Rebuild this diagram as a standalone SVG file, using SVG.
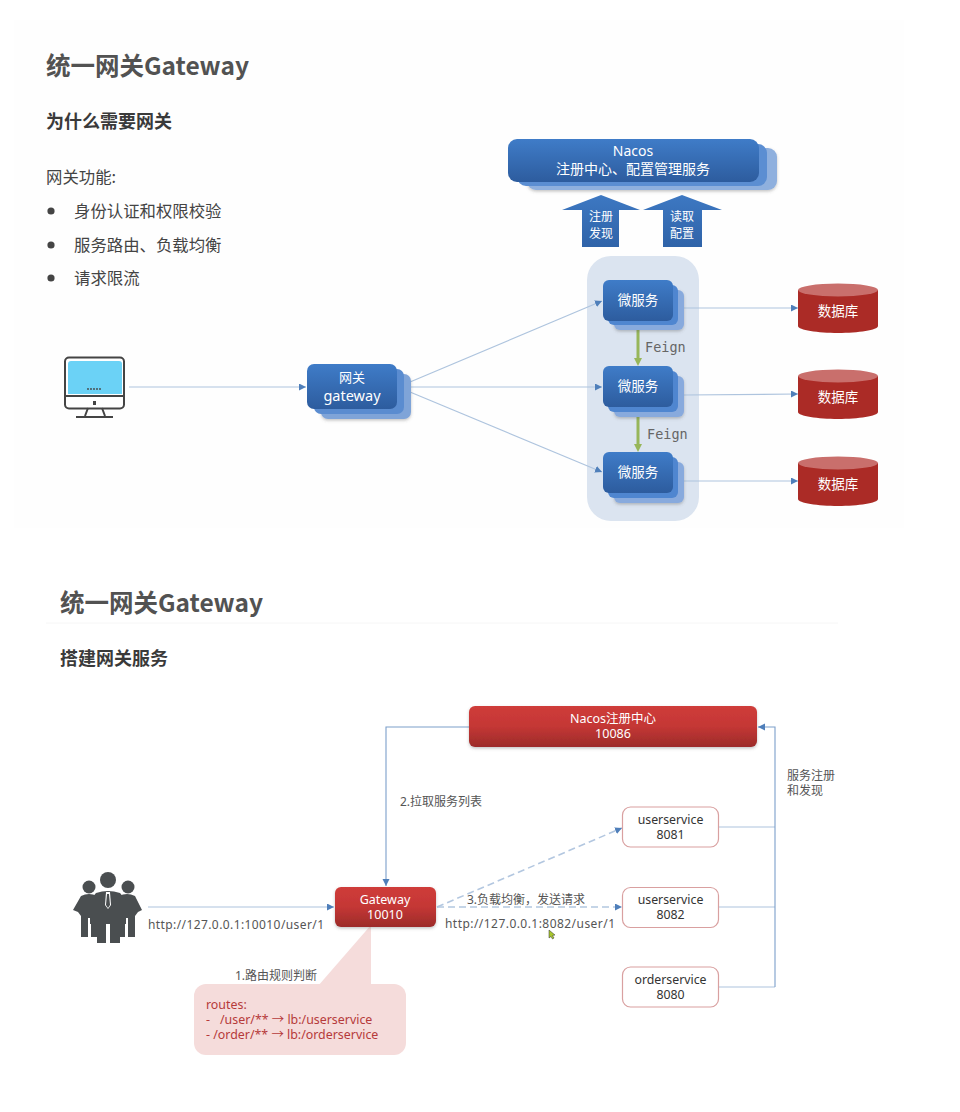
<svg xmlns="http://www.w3.org/2000/svg" width="960" height="1112" viewBox="0 0 960 1112">
<style>
text{font-family:"Noto Sans","Noto Sans CJK SC",sans-serif;}
.cjk{font-family:"Noto Sans CJK SC",sans-serif;}
.title{font-size:24.5px;font-weight:700;fill:#525252;font-family:"Noto Sans CJK SC",sans-serif;}
.h2{font-size:18px;font-weight:700;fill:#3a3a3a;font-family:"Noto Sans CJK SC",sans-serif;}
.body{font-size:16.4px;fill:#444;font-family:"Noto Sans CJK SC",sans-serif;}
.w{fill:#fff;text-anchor:middle;}
.lab{font-size:12px;fill:#555;}
.mono{font-family:"DejaVu Sans Mono",monospace;font-size:13.5px;fill:#666;}
.svc{font-size:12.3px;fill:#333;text-anchor:middle;}
.route{font-size:12.4px;fill:#b53a3a;}
.l{fill:none;stroke:#aec4de;stroke-width:1.2;}
.l2{fill:none;stroke:#7c9fca;stroke-width:1.1;}
.d{fill:none;stroke:#b3c7e0;stroke-width:1.6;stroke-dasharray:7 4;}
.f{fill:none;stroke:#97b65a;stroke-width:3;}
.db-b{fill:#ab2b26;}
.db-t{fill:#c96f6c;}
.svcbox{fill:#fff;stroke:#d9a0a0;stroke-width:1.2;}
</style>
<defs>
<linearGradient id="bg" x1="0" y1="0" x2="0" y2="1"><stop offset="0" stop-color="#3f7cc8"/><stop offset="1" stop-color="#2d5c9e"/></linearGradient>
<linearGradient id="rg" x1="0" y1="0" x2="0" y2="1"><stop offset="0" stop-color="#cf3c3a"/><stop offset="0.5" stop-color="#c43735"/><stop offset="1" stop-color="#9c2b29"/></linearGradient>
<linearGradient id="ag" x1="0" y1="0" x2="0" y2="1"><stop offset="0" stop-color="#3d78c2"/><stop offset="1" stop-color="#2f63a8"/></linearGradient>
<filter id="sh" x="-10%" y="-10%" width="120%" height="130%"><feDropShadow dx="0" dy="1.5" stdDeviation="1.5" flood-color="#555" flood-opacity="0.35"/></filter>
<marker id="a" markerWidth="8" markerHeight="8" refX="7" refY="3.5" orient="auto" markerUnits="userSpaceOnUse"><path d="M0 0L7 3.5L0 7z" fill="#4f7fba"/></marker>
</defs>
<rect width="960" height="1112" fill="#fff"/>
<rect x="14" y="20" width="890" height="508" fill="#fefefe"/>
<line x1="46" y1="623" x2="838" y2="623" stroke="#f6f6f6"/>

<text class="title" x="46" y="75">统一网关Gateway</text>
<text class="h2" x="46" y="128">为什么需要网关</text>
<text class="body" x="46" y="183">网关功能:</text>
<g fill="#444"><circle cx="51" cy="211" r="3.6"/><circle cx="51" cy="245" r="3.6"/><circle cx="51" cy="278" r="3.6"/></g>
<text class="body" x="74" y="217">身份认证和权限校验</text>
<text class="body" x="74" y="251">服务路由、负载均衡</text>
<text class="body" x="74" y="284">请求限流</text>

<rect id="panel" x="587" y="256" width="112" height="265" rx="24" fill="#dbe4f0"/>

<g id="connectors">
<path class="l" d="M129 387H306" marker-end="url(#a)"/>
<path class="l" d="M410 382L602 301" marker-end="url(#a)"/>
<path class="l" d="M410 387H602" marker-end="url(#a)"/>
<path class="l" d="M410 392L602 472" marker-end="url(#a)"/>
<path class="l" d="M684 308H798" marker-end="url(#a)"/>
<path class="l" d="M684 395L798 394" marker-end="url(#a)"/>
<path class="l" d="M684 481H798" marker-end="url(#a)"/>
<path class="f" d="M638 325V362"/><path d="M638 320l-4 8h8zM638 366l-4 -8h8z" fill="#97b65a"/>
<path class="f" d="M638 412V448"/><path d="M638 407l-4 8h8zM638 452l-4 -8h8z" fill="#97b65a"/>

<path class="l2" d="M469 727H386V886" marker-end="url(#a)"/>
<path class="l" d="M148 907H334" marker-end="url(#a)"/>
<path class="d" d="M437 907L622 828" marker-end="url(#a)"/>
<path class="d" d="M437 907H622" marker-end="url(#a)"/>
<path class="l" d="M719 827H775"/>
<path class="l" d="M719 907H775"/>
<path class="l" d="M719 987H775"/>
<path class="l2" d="M775 987V727H758" marker-end="url(#a)"/>
</g>

<g id="nacos">
<rect x="527" y="148" width="250" height="42" rx="9" fill="#8fb0de" filter="url(#sh)"/>
<rect x="517" y="144" width="250" height="42" rx="9" fill="#5b8ed2"/>
<rect x="508" y="139" width="251" height="43" rx="9" fill="url(#bg)"/>
<text class="w" x="633" y="156" font-size="14">Nacos</text>
<text class="w cjk" x="633" y="174" font-size="14">注册中心、配置管理服务</text>
</g>
<g id="arrow-register">
<path d="M601 195L640 210H619V247H582V210H562z" fill="url(#ag)"/>
<text class="w cjk" x="601" y="221" font-size="12">注册</text>
<text class="w cjk" x="601" y="238" font-size="12">发现</text>
</g>
<g id="arrow-config">
<path d="M682 195L722 210H702V247H663V210H643z" fill="url(#ag)"/>
<text class="w cjk" x="682" y="221" font-size="12">读取</text>
<text class="w cjk" x="682" y="238" font-size="12">配置</text>
</g>

<g id="monitor">
<rect x="65" y="357.500" width="59" height="51" rx="4" fill="#fff" stroke="#444" stroke-width="2"/>
<path d="M68 394V364a3 3 0 0 1 3-3H119a3 3 0 0 1 3 3V394z" fill="#6bd2f6"/>
<line x1="65" y1="396" x2="124" y2="396" stroke="#444" stroke-width="2"/>
<rect x="93" y="401" width="3" height="4" fill="#444"/>
<path d="M88 408L85 416M102 408L105 416" stroke="#444" stroke-width="2" fill="none"/>
<line x1="76" y1="417" x2="113" y2="417" stroke="#444" stroke-width="2"/>
<g fill="#444"><circle cx="88" cy="389" r="0.9"/><circle cx="91" cy="389" r="0.9"/><circle cx="94" cy="389" r="0.9"/><circle cx="97" cy="389" r="0.9"/><circle cx="100" cy="389" r="0.9"/></g>
</g>

<g id="gateway1">
<rect x="321" y="374" width="90" height="45" rx="7" fill="#7fa4d8" filter="url(#sh)"/>
<rect x="314" y="369" width="90" height="45" rx="7" fill="#5a8cd0"/>
<rect x="307" y="364" width="90" height="45" rx="7" fill="url(#bg)"/>
<text class="w cjk" x="352" y="382" font-size="13">网关</text>
<text class="w" x="352" y="401" font-size="14.500">gateway</text>
</g>

<g id="svc1">
<rect x="614" y="290" width="70" height="40" rx="6" fill="#88aadd" filter="url(#sh)"/>
<rect x="608" y="285" width="70" height="40" rx="6" fill="#4f86d0"/>
<rect x="603" y="280" width="70" height="41" rx="6" fill="url(#bg)"/>
<text class="w cjk" x="638" y="305" font-size="13.500">微服务</text>
</g>
<g id="svc2">
<rect x="614" y="376" width="70" height="41" rx="6" fill="#88aadd" filter="url(#sh)"/>
<rect x="608" y="371" width="70" height="41" rx="6" fill="#4f86d0"/>
<rect x="603" y="366" width="70" height="41" rx="6" fill="url(#bg)"/>
<text class="w cjk" x="638" y="391" font-size="13.500">微服务</text>
</g>
<g id="svc3">
<rect x="614" y="462" width="70" height="41" rx="6" fill="#88aadd" filter="url(#sh)"/>
<rect x="608" y="457" width="70" height="41" rx="6" fill="#4f86d0"/>
<rect x="603" y="452" width="70" height="41" rx="6" fill="url(#bg)"/>
<text class="w cjk" x="638" y="477" font-size="13.500">微服务</text>
</g>
<text class="mono" x="645" y="352">Feign</text>
<text class="mono" x="647" y="439">Feign</text>

<g id="db1">
<path class="db-b" d="M798 290V326C798 330 818 333 838 333S878 330 878 326V290z"/>
<ellipse class="db-t" cx="838" cy="290" rx="40" ry="6.500"/>
<text class="w cjk" x="838" y="316" font-size="13.500">数据库</text>
</g>
<g id="db2">
<path class="db-b" d="M798 376V412C798 416 818 419 838 419S878 416 878 412V376z"/>
<ellipse class="db-t" cx="838" cy="376" rx="40" ry="6.500"/>
<text class="w cjk" x="838" y="402" font-size="13.500">数据库</text>
</g>
<g id="db3">
<path class="db-b" d="M798 463V499C798 503 818 506 838 506S878 503 878 499V463z"/>
<ellipse class="db-t" cx="838" cy="463" rx="40" ry="6.500"/>
<text class="w cjk" x="838" y="489" font-size="13.500">数据库</text>
</g>

<text class="title" x="60" y="612">统一网关Gateway</text>
<text class="h2" x="60" y="665">搭建网关服务</text>

<g id="nacos2">
<rect x="469" y="706" width="288" height="41" rx="6" fill="url(#rg)" filter="url(#sh)"/>
<text class="w" x="613" y="723" font-size="12.500">Nacos注册中心</text>
<text class="w" x="613" y="738" font-size="12.500">10086</text>
</g>
<text class="lab" x="400" y="806">2.拉取服务列表</text>
<text class="lab" x="787" y="780">服务注册</text>
<text class="lab" x="787" y="795">和发现</text>

<g id="people" fill="#4a4e50">
<circle cx="89" cy="887" r="6.500"/><circle cx="108" cy="880" r="8"/><circle cx="128" cy="887" r="6.500"/>
<path d="M73 910L81 896Q89 892 97 896V937H91V918H88V937H81V916L78 912z"/>
<path d="M142 910L135 896Q127 892 119 896V937H125V918H128V937H135V916L138 912z"/>
<path d="M96 893Q108 889 120 893L126 900V924H120V943H110V924H106V943H97V924H90V900z"/>
<path d="M106 892H110L111 905L108 909L105 905z" fill="#fff"/>
<path d="M107 894H109L110 905L108 908L106 905z"/>
</g>
<text class="lab" x="148" y="929" textLength="176">http://127.0.0.1:10010/user/1</text>

<path id="callout-tail" d="M371 925V986H318z" fill="#f5dcdb"/>
<g id="gateway2">
<rect x="335" y="887" width="101" height="40" rx="6" fill="url(#rg)" filter="url(#sh)"/>
<text class="w" x="385" y="904" font-size="12.500">Gateway</text>
<text class="w" x="385" y="919" font-size="12.500">10010</text>
</g>
<text class="lab" x="235" y="980">1.路由规则判断</text>
<g id="routes">
<rect x="194" y="984" width="212" height="71" rx="12" fill="#f5dcdb"/>
<text class="route" x="206" y="1009">routes:</text>
<text class="route" x="206" y="1024">-<tspan x="220">/user/** → lb:/userservice</tspan></text>
<text class="route" x="206" y="1039">- /order/** → lb:/orderservice</text>
</g>

<text class="lab" x="467" y="904">3.负载均衡，发送请求</text>
<text class="lab" x="445" y="928" textLength="170">http://127.0.0.1:8082/user/1</text>
<path id="cursor" d="M549 930L549 938L551 936.500L552.500 939L554 938L552.500 935.500L555 935z" fill="#a8c62c" stroke="#333" stroke-width="0.500"/>

<g id="us1"><rect class="svcbox" x="622.500" y="807" width="96" height="40" rx="8"/>
<text class="svc" x="670.500" y="824">userservice</text><text class="svc" x="670.500" y="839">8081</text></g>
<g id="us2"><rect class="svcbox" x="622.500" y="887.500" width="96" height="40" rx="8"/>
<text class="svc" x="670.500" y="904">userservice</text><text class="svc" x="670.500" y="919">8082</text></g>
<g id="os"><rect class="svcbox" x="622.500" y="967" width="96" height="40" rx="8"/>
<text class="svc" x="670.500" y="984">orderservice</text><text class="svc" x="670.500" y="999">8080</text></g>
</svg>
